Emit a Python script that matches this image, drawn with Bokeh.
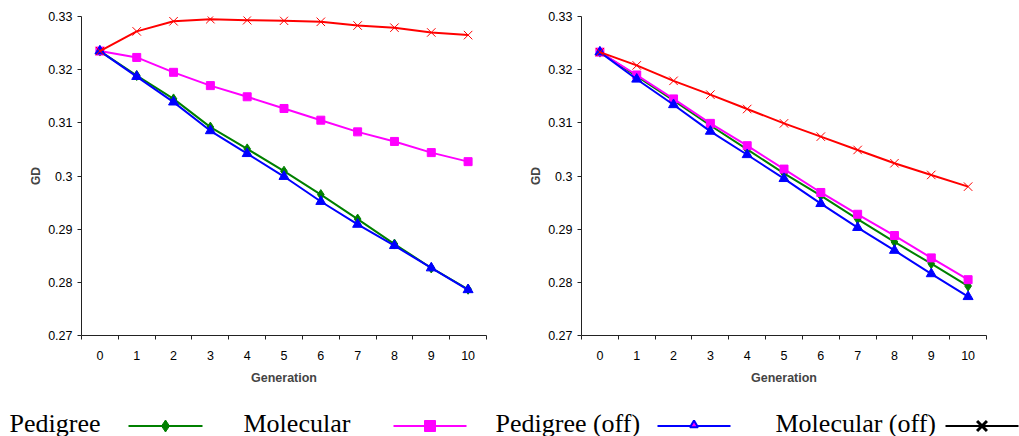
from bokeh.plotting import figure
from bokeh.layouts import column, row
from bokeh.models import Range1d, FixedTicker
from bokeh.core.properties import value
from bokeh.embed import file_html
from bokeh.resources import INLINE

# ---------------- data ----------------
generations = [0, 1, 2, 3, 4, 5, 6, 7, 8, 9, 10]
gen_labels = ["0", "1", "2", "3", "4", "5", "6", "7", "8", "9", "10"]

y_ticks = [0.27, 0.28, 0.29, 0.3, 0.31, 0.32, 0.33]
y_tick_labels = ["0.27", "0.28", "0.29", "0.3", "0.31", "0.32", "0.33"]

series_names = ["Pedigree", "Molecular", "Pedigree (off)", "Molecular (off)"]

left_pedigree = [0.3235, 0.3189, 0.3145, 0.3092, 0.3051, 0.3009, 0.2965, 0.2919, 0.2872, 0.2827, 0.2787]
left_molecular = [0.3235, 0.3223, 0.3195, 0.3170, 0.3149, 0.3127, 0.3105, 0.3083, 0.3065, 0.3044, 0.3027]
left_pedigree_off = [0.3235, 0.3187, 0.3139, 0.3085, 0.3042, 0.2999, 0.2952, 0.2909, 0.2869, 0.2827, 0.2786]
left_molecular_off = [0.3235, 0.3272, 0.3291, 0.3295, 0.3293, 0.3292, 0.3290, 0.3283, 0.3279, 0.3270, 0.3265]

right_pedigree = [0.3233, 0.3188, 0.3142, 0.3095, 0.3050, 0.3005, 0.2963, 0.2919, 0.2876, 0.2835, 0.2793]
right_molecular = [0.3233, 0.3190, 0.3145, 0.3099, 0.3057, 0.3013, 0.2969, 0.2928, 0.2888, 0.2846, 0.2805]
right_pedigree_off = [0.3233, 0.3182, 0.3134, 0.3084, 0.3040, 0.2995, 0.2948, 0.2903, 0.2860, 0.2816, 0.2773]
right_molecular_off = [0.3233, 0.3208, 0.3179, 0.3153, 0.3126, 0.3099, 0.3074, 0.3049, 0.3024, 0.3002, 0.2980]

# ---------------- styles ----------------
GREEN = "#008000"
MAGENTA = "#FF00FF"
BLUE = "#0000FF"
RED = "#FF0000"
AX_FONT = "Liberation Sans"
LEG_FONT = "Liberation Serif"


def make_chart(ped, mol, ped_off, mol_off, border_left, border_right):
    p = figure(
        output_backend="svg", toolbar_location=None,
        frame_width=405, frame_height=319,
        min_border_left=border_left, min_border_right=border_right,
        min_border_top=16, min_border_bottom=53,
        x_range=Range1d(-0.5, 10.5), y_range=Range1d(0.27, 0.33),
        background_fill_color="white", border_fill_color="white",
    )
    p.outline_line_color = None
    p.grid.visible = False

    # series (drawn in Excel series order)
    p.line(generations, ped, line_color=GREEN, line_width=2)
    p.scatter(generations, ped, marker="diamond", size=10, fill_color=GREEN, line_color=GREEN)
    p.line(generations, mol, line_color=MAGENTA, line_width=2)
    p.scatter(generations, mol, marker="square", size=8, fill_color=MAGENTA, line_color=MAGENTA)
    p.line(generations, ped_off, line_color=BLUE, line_width=2)
    p.scatter(generations, ped_off, marker="triangle", size=10, fill_color=BLUE, line_color=BLUE)
    p.line(generations, mol_off, line_color=RED, line_width=2)
    p.scatter(generations, mol_off, marker="x", size=12, line_color=RED, line_width=1)

    # x axis: ticks between categories, labels at category centers
    xa = p.xaxis[0]
    bounds = [g - 0.5 for g in generations] + [generations[-1] + 0.5]
    xa.ticker = FixedTicker(ticks=generations, minor_ticks=bounds)
    xa.major_label_overrides = {g: lab for g, lab in zip(generations, gen_labels)}
    xa.major_tick_in = 0
    xa.major_tick_out = 0
    xa.minor_tick_in = 0
    xa.minor_tick_out = 4
    xa.minor_tick_line_color = "#222222"
    xa.axis_line_color = "#222222"
    xa.major_label_standoff = 11
    xa.major_label_text_font = AX_FONT
    xa.major_label_text_font_size = "12.5px"
    xa.major_label_text_color = "black"
    xa.axis_label = "Generation"
    xa.axis_label_text_font = AX_FONT
    xa.axis_label_text_font_style = "bold"
    xa.axis_label_text_font_size = "12.5px"
    xa.axis_label_standoff = 8

    ya = p.yaxis[0]
    ya.ticker = FixedTicker(ticks=y_ticks, minor_ticks=[])
    ya.major_label_overrides = {t: lab for t, lab in zip(y_ticks, y_tick_labels)}
    ya.major_tick_in = 0
    ya.major_tick_out = 4
    ya.major_tick_line_color = "#222222"
    ya.axis_line_color = "#222222"
    ya.major_label_standoff = 5
    ya.major_label_text_font = AX_FONT
    ya.major_label_text_font_size = "12.5px"
    ya.major_label_text_color = "black"
    ya.axis_label = "GD"
    ya.axis_label_text_font = AX_FONT
    ya.axis_label_text_font_style = "bold"
    ya.axis_label_text_font_size = "12px"
    ya.axis_label_standoff = 2
    return p


p_left = make_chart(left_pedigree, left_molecular, left_pedigree_off, left_molecular_off, 81, 22)
p_right = make_chart(right_pedigree, right_molecular, right_pedigree_off, right_molecular_off, 73, 33)

# ---------------- legend strip ----------------
leg = figure(
    output_backend="svg", toolbar_location=None,
    width=1019, height=48, min_border=0,
    x_range=Range1d(0, 1019), y_range=Range1d(0, 48),
    x_axis_location=None, y_axis_location=None,
    background_fill_color="white", border_fill_color="white",
)
leg.outline_line_color = None
leg.grid.visible = False

# layout of the legend (pixel positions in the strip)
label_x = [9, 243, 495, 775]
seg_x0 = [128, 393, 657, 945]
seg_x1 = [202, 466, 730, 1018]
text_y = 13.5
seg_y = 10.5

leg.text(x=label_x, y=[text_y] * 4, text=series_names,
         text_font=value(LEG_FONT), text_font_size="26px",
         text_baseline="middle", text_align="left", text_color="black")

leg_colors = [GREEN, MAGENTA, BLUE, "black"]
for i in range(4):
    leg.line([seg_x0[i], seg_x1[i]], [seg_y, seg_y], line_color=leg_colors[i], line_width=2)
mid = [(a + b) / 2 for a, b in zip(seg_x0, seg_x1)]
leg.scatter([mid[0]], [seg_y], marker="diamond", size=12, fill_color=GREEN, line_color=GREEN)
leg.scatter([mid[1]], [seg_y], marker="square", size=11, fill_color=MAGENTA, line_color=MAGENTA)
leg.scatter([mid[2]], [seg_y + 1], marker="triangle", size=8, fill_color=MAGENTA, line_color=BLUE, line_width=2)
leg.scatter([mid[3]], [seg_y], marker="x", size=14, line_color="black", line_width=3)

layout = column(row(p_left, p_right, spacing=0), leg, spacing=0)

open("out.html", "w").write(file_html(layout, INLINE))
